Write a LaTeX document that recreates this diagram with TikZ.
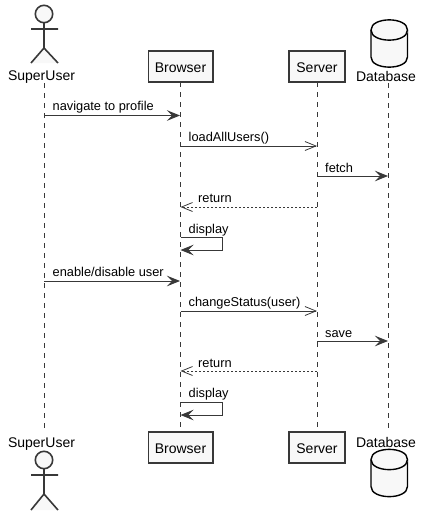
\documentclass[tikz,border=0pt]{standalone}
\usepackage{fontspec}
\setmainfont{Liberation Sans}
\usetikzlibrary{arrows.meta}
\definecolor{ln}{HTML}{383838}
\definecolor{bg}{HTML}{F8F8F8}
\tikzset{
  x=1pt,y=-1pt,
  lifeline/.style={draw=ln,line width=0.9pt,dash pattern=on 5pt off 5pt},
  partbox/.style={draw=ln,fill=bg,line width=1.5pt,minimum height=31pt,inner sep=0pt,text height=12pt,text depth=0pt,font=\fontsize{14}{16}\selectfont},
  actorlabel/.style={inner sep=0pt,anchor=base,font=\fontsize{14}{16}\selectfont},
  msglabel/.style={inner sep=0pt,anchor=base west,font=\fontsize{12.8}{15}\selectfont},
  syncmsg/.style={draw=ln,line width=1pt,-{Stealth[length=13pt,width=10.5pt,inset=5pt,fill=ln]}},
  asyncmsg/.style={draw=ln,line width=0.8pt,-{Straight Barb[length=11pt,width=9pt,line width=0.8pt]}},
  retmsg/.style={draw=ln,line width=0.8pt,dash pattern=on 2pt off 2pt,-{Straight Barb[length=11pt,width=9pt,line width=0.8pt,sep=0pt]}},
  actorshape/.style={draw=ln,line width=1.6pt,fill=bg},
  dbshape/.style={draw=black,line width=1.4pt,fill=bg},
}
\begin{document}
\begin{tikzpicture}
\useasboundingbox (0,0) rectangle (427,520);
% participants, top
\node[actorlabel] (suT) at (41.5,80.5) {SuperUser};
\node[partbox,minimum width=64.5pt] (brT) at (180.5,66.5) {Browser};
\node[partbox,minimum width=56pt] (seT) at (317,66.5) {Server};
\node[actorlabel] (dbT) at (386,81) {Database};
% participants, bottom
\node[actorlabel] (suB) at (41.5,447) {SuperUser};
\node[partbox,minimum width=64.5pt] (brB) at (180.5,447.5) {Browser};
\node[partbox,minimum width=56pt] (seB) at (317,447.5) {Server};
\node[actorlabel] (dbB) at (386,447) {Database};
% lifeline ends
\coordinate (suA) at (44,83); \coordinate (suZ) at (44,428);
\coordinate (brA) at (180.5,82); \coordinate (brZ) at (180.5,432);
\coordinate (seA) at (317,82); \coordinate (seZ) at (317,432);
\coordinate (dbA) at (388,83); \coordinate (dbZ) at (388,428);
\draw[lifeline] (suA) -- (suZ);
\draw[lifeline] (brA) -- (brZ);
\draw[lifeline] (seA) -- (seZ);
\draw[lifeline] (dbA) -- (dbZ);
% actors
\draw[actorshape] (44,14) circle (8.7);
\draw[actorshape] (44,23) -- (44,48) (31,29) -- (58,29) (31,63) -- (44,48) -- (58,63);
\draw[actorshape] (44,460) circle (8.7);
\draw[actorshape] (44,469) -- (44,494) (31,475) -- (58,475) (31,510) -- (44,494) -- (58,510);
% databases
\draw[dbshape] (371,30) .. controls (371,16.5) and (407.5,16.5) .. (407.5,30)
  -- (407.5,57) .. controls (407.5,70.5) and (371,70.5) .. (371,57) -- cycle;
\draw[dbshape] (371,30) .. controls (371,43.5) and (407.5,43.5) .. (407.5,30);
\draw[dbshape] (371,459.5) .. controls (371,446) and (407.5,446) .. (407.5,459.5)
  -- (407.5,486.5) .. controls (407.5,500) and (371,500) .. (371,486.5) -- cycle;
\draw[dbshape] (371,459.5) .. controls (371,473) and (407.5,473) .. (407.5,459.5);
% message anchor points
\foreach \n/\xx/\yy in {a1/44/115.5,b1/180/115.5,a2/180.5/146,b2/317/146,a3/317/176,b3/388/176,
  a4/317/207,b4/180.5/207,a5/180.5/237,c5/222.5/237,d5/222.5/250,b5/180.5/250,
  a6/44/281,b6/180/281,a7/180.5/311,b7/317/311,a8/317/341,b8/388/341,
  a9/317/371,b9/180.5/371,a10/180.5/402,c10/222.5/402,d10/222.5/415,b10/180.5/415}
  {\coordinate (\n) at (\xx,\yy);}
% messages
\draw[syncmsg] (a1) -- (b1);
\draw[asyncmsg] (a2) -- (b2);
\draw[syncmsg] (a3) -- (b3);
\draw[retmsg] (a4) -- (b4);
\draw[syncmsg] (a5) -- (c5) -- (d5) -- (b5);
\draw[syncmsg] (a6) -- (b6);
\draw[asyncmsg] (a7) -- (b7);
\draw[syncmsg] (a8) -- (b8);
\draw[retmsg] (a9) -- (b9);
\draw[syncmsg] (a10) -- (c10) -- (d10) -- (b10);
% labels
\node[msglabel] (m1) at (52.5,110.5) {navigate to profile};
\node[msglabel] (m2) at (188.5,141) {loadAllUsers()};
\node[msglabel] (m3) at (325,172) {fetch};
\node[msglabel] (m4) at (198,202) {return};
\node[msglabel] (m5) at (188.5,233) {display};
\node[msglabel] (m6) at (52.5,276) {enable/disable user};
\node[msglabel] (m7) at (188.5,306) {changeStatus(user)};
\node[msglabel] (m8) at (325,337) {save};
\node[msglabel] (m9) at (198,367) {return};
\node[msglabel] (m10) at (188.5,397) {display};
\end{tikzpicture}
\end{document}
